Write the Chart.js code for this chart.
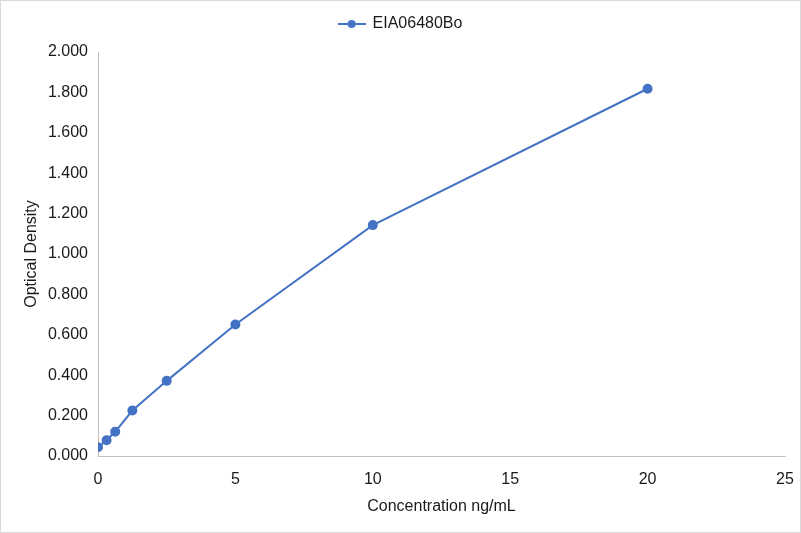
<!DOCTYPE html>
<html>
<head>
<meta charset="utf-8">
<script src="https://cdn.jsdelivr.net/npm/chart.js@4/dist/chart.umd.min.js"></script>
<style>
    html, body { margin: 0; padding: 0; background: #fff; }
    #wrap { width: 801px; height: 533px; box-sizing: border-box; border: 1px solid #d9d9d9; }
</style>
</head>
<body>
<div id="wrap"><canvas id="chart"></canvas></div>
<script>
const seriesName = 'EIA06480Bo'
const concentrations = [0, 0.3125, 0.625, 1.25, 2.5, 5, 10, 20]
const densities = [0.043, 0.078, 0.120, 0.225, 0.372, 0.651, 1.143, 1.818]

const blue = '#4472C4'
const textColor = '#1a1a1a'
const axisColor = '#bfbfbf'

let points = []
for (let i = 0; i < concentrations.length; i++) {
    points.push({ x: concentrations[i], y: densities[i] })
}

// legend marker: short line with a dot in the middle, like the office style
function legendMarker() {
    const c = document.createElement('canvas')
    c.width = 28
    c.height = 10
    const ctx = c.getContext('2d')
    ctx.strokeStyle = blue
    ctx.lineWidth = 2
    ctx.beginPath()
    ctx.moveTo(0, 5)
    ctx.lineTo(28, 5)
    ctx.stroke()
    ctx.fillStyle = blue
    ctx.beginPath()
    ctx.arc(14, 5, 4, 0, Math.PI * 2)
    ctx.fill()
    return c
}

// extra room under the legend
const legendGap = {
    id: 'legendGap',
    beforeInit(chart) {
        const fit = chart.legend.fit
        chart.legend.fit = function () {
            fit.bind(chart.legend)()
            this.height += 10
        }
    }
}

Chart.defaults.font.family = '"Liberation Sans", Arial, sans-serif'
Chart.defaults.font.size = 16
Chart.defaults.color = textColor

const canvas = document.getElementById('chart')

const chart = new Chart(canvas, {
    type: 'scatter',
    data: {
        datasets: [
            {
                label: seriesName,
                data: points,
                showLine: true,
                borderColor: blue,
                backgroundColor: blue,
                borderWidth: 2,
                pointRadius: 4,
                pointHoverRadius: 4,
            },
        ]
    },
    plugins: [legendGap],
    options: {
        responsive: true,
        maintainAspectRatio: false,
        animation: false,
        layout: {
            padding: { top: 5, right: 15, left: 15, bottom: 0 }
        },
        plugins: {
            legend: {
                position: 'top',
                labels: {
                    usePointStyle: true,
                    pointStyleWidth: 26,
                    padding: 10,
                    color: textColor,
                    generateLabels(c) {
                        const items = Chart.defaults.plugins.legend.labels.generateLabels(c)
                        items.forEach(it => { it.pointStyle = legendMarker() })
                        return items
                    }
                }
            },
            tooltip: { enabled: false },
        },
        scales: {
            x: {
                type: 'linear',
                min: 0,
                max: 25,
                grid: { display: false, drawTicks: false },
                border: { display: true, color: axisColor, width: 1 },
                ticks: { stepSize: 5, padding: 14, color: textColor },
                title: {
                    display: true,
                    text: 'Concentration ng/mL',
                    color: textColor,
                    padding: { top: 4, bottom: 16 }
                },
                afterFit(scale) {
                    scale.height = 76
                    scale.paddingRight = 0
                    scale.paddingLeft = 0
                }
            },
            y: {
                min: 0,
                max: 2,
                grid: { display: false, drawTicks: false },
                border: { display: true, color: axisColor, width: 1 },
                ticks: {
                    stepSize: 0.2,
                    padding: 10,
                    color: textColor,
                    callback: v => v.toFixed(3)
                },
                title: {
                    display: true,
                    text: 'Optical Density',
                    color: textColor,
                    padding: { top: 6, bottom: 0 }
                },
                afterFit(scale) { scale.width = 82 }
            }
        }
    }
})
</script>
</body>
</html>
